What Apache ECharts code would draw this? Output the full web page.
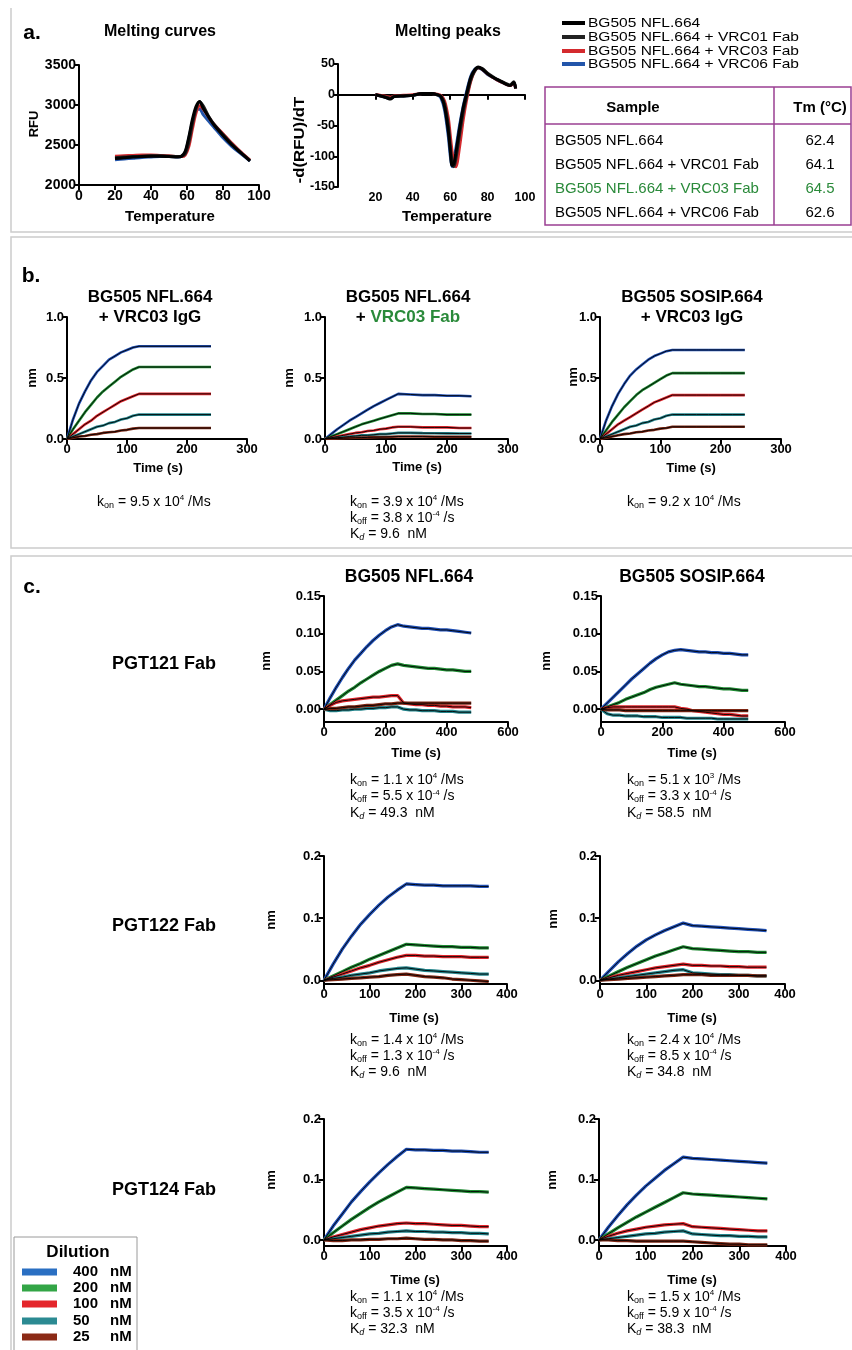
<!DOCTYPE html>
<html><head><meta charset="utf-8">
<script src="https://cdn.jsdelivr.net/npm/echarts@6/dist/echarts.min.js"></script>
<style>html,body{margin:0;padding:0;background:#fff}#c{width:852px;height:1350px}</style>
</head><body><div id="c"></div>
<script>
// ---------- Panel a data ----------
const meltTemp = [20,25,30,35,40,45,50,55,57,59,61,63,65,67,69,72,75,80,85,90,95];
const meltNFL   = [2330,2340,2350,2355,2360,2360,2355,2350,2360,2420,2600,2820,2980,3045,2960,2850,2750,2620,2500,2400,2300];
const meltVRC01 = [2340,2350,2355,2360,2365,2365,2360,2355,2360,2390,2530,2760,2950,3040,2990,2860,2760,2630,2510,2405,2305];
const meltVRC03 = [2360,2365,2370,2375,2375,2370,2365,2355,2355,2375,2480,2700,2900,2990,2950,2850,2760,2640,2520,2410,2310];
const meltVRC06 = [2315,2325,2335,2345,2350,2355,2355,2350,2360,2410,2580,2790,2930,2950,2880,2800,2720,2590,2480,2390,2300];

const peakTemp  = [20,23,26,28,30,35,40,45,50,53,55,57,59,60,61,62,63,65,67,69,71,73,75,77,80,83,85,88,90,92,94,95];
const peakNFL   = [0,-2,-5,-7,-3,-2,-1,2,2,0,-3,-20,-60,-90,-115,-112,-95,-55,-20,5,28,40,45,42,34,28,25,20,17,15,20,10];
const peakVRC01 = [0,-2,-4,-6,-3,-2,-1,2,2,0,-2,-15,-50,-82,-108,-117,-105,-65,-28,0,24,38,44,43,35,29,25,21,18,16,21,11];
const peakVRC03 = [0,-1,-3,-4,-2,-1,0,2,2,1,-1,-10,-38,-65,-92,-110,-117,-85,-40,-5,22,38,44,42,34,28,24,20,17,15,19,10];
const peakVRC06 = [0,-2,-5,-6,-3,-2,-1,2,2,0,-5,-25,-68,-98,-117,-105,-88,-50,-18,8,30,41,44,41,33,28,24,20,17,15,19,10];

const sampleNames = ['BG505 NFL.664','BG505 NFL.664 + VRC01 Fab','BG505 NFL.664 + VRC03 Fab','BG505 NFL.664 + VRC06 Fab'];
const tmValues = ['62.4','64.1','64.5','62.6'];

// ---------- Panel b data ----------
const timeB = [0,10,20,30,40,50,60,70,80,90,100,110,120,140,160,180,200,220,240];
const b1_400 = [0,0.16,0.29,0.39,0.48,0.55,0.60,0.65,0.68,0.71,0.73,0.75,0.76,0.76,0.76,0.76,0.76,0.76,0.76];
const b1_200 = [0,0.08,0.15,0.22,0.28,0.34,0.39,0.43,0.47,0.51,0.54,0.57,0.59,0.59,0.59,0.59,0.59,0.59,0.59];
const b1_100 = [0,0.04,0.08,0.12,0.15,0.19,0.22,0.25,0.28,0.31,0.33,0.35,0.37,0.37,0.37,0.37,0.37,0.37,0.37];
const b1_50  = [0,0.02,0.04,0.06,0.08,0.10,0.11,0.13,0.14,0.16,0.17,0.19,0.20,0.20,0.20,0.20,0.20,0.20,0.20];
const b1_25  = [0,0.01,0.02,0.025,0.035,0.04,0.05,0.055,0.06,0.07,0.075,0.085,0.09,0.09,0.09,0.09,0.09,0.09,0.09];

const b2_400 = [0,0.04,0.08,0.115,0.15,0.18,0.21,0.24,0.27,0.295,0.32,0.345,0.37,0.365,0.36,0.36,0.355,0.355,0.35];
const b2_200 = [0,0.02,0.04,0.06,0.08,0.10,0.12,0.135,0.15,0.165,0.18,0.195,0.21,0.21,0.205,0.205,0.20,0.20,0.20];
const b2_100 = [0,0.01,0.02,0.03,0.04,0.05,0.055,0.065,0.07,0.08,0.085,0.095,0.10,0.10,0.095,0.095,0.095,0.09,0.09];
const b2_50  = [0,0.005,0.01,0.015,0.02,0.025,0.03,0.03,0.035,0.04,0.04,0.045,0.05,0.05,0.048,0.047,0.046,0.045,0.045];
const b2_25  = [0,0.002,0.004,0.006,0.008,0.01,0.012,0.013,0.015,0.016,0.017,0.019,0.02,0.02,0.02,0.019,0.019,0.018,0.018];

const b3_400 = [0,0.15,0.27,0.37,0.45,0.52,0.57,0.61,0.65,0.68,0.70,0.72,0.73,0.73,0.73,0.73,0.73,0.73,0.73];
const b3_200 = [0,0.07,0.14,0.20,0.26,0.31,0.36,0.40,0.43,0.46,0.49,0.52,0.54,0.54,0.54,0.54,0.54,0.54,0.54];
const b3_100 = [0,0.04,0.08,0.12,0.15,0.18,0.21,0.24,0.27,0.30,0.32,0.34,0.36,0.36,0.36,0.36,0.36,0.36,0.36];
const b3_50  = [0,0.02,0.04,0.06,0.08,0.10,0.11,0.13,0.14,0.16,0.17,0.19,0.20,0.20,0.20,0.20,0.20,0.20,0.20];
const b3_25  = [0,0.01,0.02,0.03,0.04,0.045,0.055,0.06,0.07,0.075,0.085,0.09,0.10,0.10,0.10,0.10,0.10,0.10,0.10];

// ---------- Panel c data ----------
const timeC1 = [0,20,40,60,80,100,120,140,160,180,200,220,240,260,280,300,320,340,360,380,400,420,440,460,480];
const c1_400 = [0,0.015,0.029,0.042,0.054,0.065,0.074,0.083,0.091,0.098,0.104,0.109,0.112,0.110,0.109,0.108,0.107,0.107,0.106,0.105,0.105,0.104,0.103,0.102,0.101];
const c1_200 = [0,0.006,0.012,0.018,0.024,0.029,0.035,0.040,0.045,0.050,0.054,0.058,0.060,0.058,0.057,0.056,0.055,0.054,0.054,0.053,0.052,0.052,0.051,0.050,0.050];
const c1_100 = [0,0.005,0.009,0.011,0.012,0.013,0.014,0.015,0.016,0.016,0.017,0.018,0.018,0.008,0.007,0.006,0.006,0.005,0.005,0.004,0.004,0.003,0.003,0.003,0.002];
const c1_50  = [0,-0.002,-0.002,-0.001,-0.001,0.000,0.000,0.001,0.001,0.002,0.002,0.003,0.003,0.000,-0.001,-0.001,-0.002,-0.002,-0.002,-0.003,-0.003,-0.003,-0.004,-0.004,-0.004];
const c1_25  = [0,0.001,0.001,0.002,0.003,0.003,0.004,0.005,0.005,0.006,0.007,0.007,0.008,0.008,0.008,0.008,0.008,0.008,0.008,0.008,0.008,0.008,0.008,0.008,0.008];

const c2_400 = [0,0.008,0.016,0.024,0.032,0.040,0.047,0.054,0.061,0.067,0.072,0.076,0.078,0.079,0.078,0.077,0.076,0.076,0.075,0.075,0.074,0.074,0.073,0.072,0.072];
const c2_200 = [0,0.003,0.006,0.009,0.013,0.016,0.019,0.022,0.026,0.029,0.031,0.033,0.035,0.033,0.032,0.031,0.030,0.030,0.029,0.028,0.027,0.027,0.026,0.025,0.025];
const c2_100 = [0,0.002,0.003,0.003,0.003,0.003,0.003,0.003,0.003,0.003,0.003,0.003,0.003,0.001,0.000,-0.002,-0.003,-0.004,-0.005,-0.006,-0.007,-0.007,-0.008,-0.009,-0.009];
const c2_50  = [0,-0.006,-0.008,-0.008,-0.009,-0.009,-0.009,-0.010,-0.010,-0.010,-0.011,-0.011,-0.011,-0.011,-0.012,-0.012,-0.012,-0.012,-0.012,-0.013,-0.013,-0.013,-0.013,-0.013,-0.013];
const c2_25  = [0,-0.001,-0.001,-0.001,-0.002,-0.002,-0.002,-0.002,-0.002,-0.002,-0.002,-0.002,-0.002,-0.002,-0.002,-0.002,-0.002,-0.002,-0.002,-0.002,-0.002,-0.002,-0.002,-0.002,-0.002];

const timeC2 = [0,20,40,60,80,100,120,140,160,180,200,220,240,260,280,300,320,340,360];
const c3_400 = [0,0.026,0.050,0.071,0.090,0.106,0.121,0.134,0.145,0.155,0.154,0.153,0.153,0.152,0.152,0.152,0.152,0.151,0.151];
const c3_200 = [0,0.007,0.014,0.021,0.027,0.034,0.040,0.046,0.052,0.058,0.057,0.056,0.055,0.054,0.054,0.053,0.053,0.052,0.052];
const c3_100 = [0,0.005,0.010,0.015,0.020,0.024,0.029,0.033,0.037,0.040,0.040,0.039,0.039,0.038,0.038,0.038,0.037,0.037,0.037];
const c3_50  = [0,0.003,0.005,0.008,0.010,0.012,0.015,0.017,0.019,0.020,0.018,0.016,0.015,0.014,0.013,0.012,0.011,0.010,0.010];
const c3_25  = [0,0.001,0.002,0.003,0.004,0.005,0.006,0.008,0.009,0.010,0.008,0.006,0.005,0.004,0.002,0.001,0.000,-0.001,-0.002];

const c4_400 = [0,0.015,0.030,0.043,0.055,0.065,0.073,0.080,0.086,0.092,0.088,0.087,0.086,0.085,0.084,0.083,0.082,0.081,0.080];
const c4_200 = [0,0.007,0.014,0.021,0.027,0.033,0.039,0.044,0.049,0.054,0.051,0.050,0.049,0.048,0.047,0.046,0.046,0.045,0.045];
const c4_100 = [0,0.004,0.008,0.011,0.014,0.017,0.020,0.022,0.024,0.026,0.024,0.024,0.023,0.023,0.022,0.022,0.021,0.021,0.021];
const c4_50  = [0,0.002,0.004,0.006,0.008,0.010,0.012,0.014,0.016,0.017,0.012,0.011,0.010,0.009,0.009,0.008,0.008,0.007,0.007];
const c4_25  = [0,0.001,0.002,0.003,0.004,0.005,0.006,0.007,0.008,0.009,0.009,0.009,0.008,0.008,0.008,0.008,0.008,0.007,0.007];

const c5_400 = [0,0.023,0.043,0.063,0.080,0.096,0.111,0.125,0.138,0.150,0.149,0.149,0.148,0.148,0.147,0.147,0.146,0.145,0.145];
const c5_200 = [0,0.012,0.023,0.034,0.044,0.054,0.063,0.071,0.079,0.087,0.086,0.085,0.084,0.083,0.082,0.081,0.080,0.080,0.079];
const c5_100 = [0,0.005,0.009,0.013,0.017,0.020,0.023,0.025,0.027,0.028,0.027,0.027,0.026,0.025,0.024,0.024,0.023,0.022,0.022];
const c5_50  = [0,0.002,0.004,0.006,0.008,0.010,0.011,0.013,0.014,0.015,0.014,0.014,0.013,0.013,0.012,0.012,0.011,0.011,0.010];
const c5_25  = [0,-0.001,-0.001,0.000,0.000,0.001,0.001,0.002,0.002,0.003,0.002,0.001,0.001,0.000,0.000,-0.001,-0.001,-0.002,-0.002];

const c6_400 = [0,0.021,0.040,0.058,0.074,0.089,0.102,0.115,0.126,0.137,0.135,0.134,0.133,0.132,0.131,0.130,0.129,0.128,0.127];
const c6_200 = [0,0.010,0.020,0.029,0.038,0.046,0.054,0.062,0.070,0.078,0.076,0.075,0.074,0.073,0.072,0.071,0.070,0.069,0.068];
const c6_100 = [0,0.006,0.011,0.015,0.018,0.021,0.023,0.025,0.026,0.027,0.022,0.021,0.020,0.019,0.018,0.017,0.016,0.015,0.015];
const c6_50  = [0,0.002,0.004,0.006,0.008,0.010,0.011,0.013,0.014,0.015,0.010,0.009,0.008,0.007,0.007,0.006,0.006,0.005,0.005];
const c6_25  = [0,0.000,-0.001,-0.001,-0.002,-0.002,-0.002,-0.002,-0.002,-0.002,-0.003,-0.004,-0.005,-0.006,-0.007,-0.007,-0.008,-0.008,-0.008];

// kinetic constants (text), order: b1,b2,b3,c1..c6
const konMant  = ['9.5','3.9','9.2','1.1','5.1','1.4','2.4','1.1','1.5'];
const konExp   = ['4','4','4','4','3','4','4','4','4'];
const koffMant = [null,'3.8',null,'5.5','3.3','1.3','8.5','3.5','5.9'];
const koffExp  = [null,'-4',null,'-4','-4','-4','-4','-4','-4'];
const kdVals   = [null,'9.6',null,'49.3','58.5','9.6','34.8','32.3','38.3'];

const dilutions = ['400','200','100','50','25'];
const rowLabels = ['PGT121 Fab','PGT122 Fab','PGT124 Fab'];

// ---------- styles ----------
const FONT = 'Liberation Sans, Arial, Helvetica, sans-serif';
const lineColors = ['#1f4fb5','#1e8a32','#e0242a','#23858c','#7d2613'];
const swatchColors = ['#2a6fc2','#33a546','#e4262b','#2b8a92','#8b2a16'];
const meltColors = ['#2255aa','#d42a2e','#222222','#000000'];
const legendColors = ['#000000','#222222','#d42a2e','#2255aa'];
const GREEN = '#2a8a3a';

const grids = [], xAxes = [], yAxes = [], series = [];

function addAxes(box, xr, yr, fs) {
  const gi = grids.length;
  grids.push({left: box[0], top: box[1], width: box[2], height: box[3]});
  const lab = {color:'#000', fontFamily:FONT, fontWeight:'bold', fontSize:fs};
  const xa = {type:'value', gridIndex:gi, min:xr.min, max:xr.max,
    axisLine:{show:true, onZero:!!xr.onZero, lineStyle:{color:'#000', width:2}},
    axisTick:{show:true, length:5, lineStyle:{color:'#000', width:2}},
    axisLabel:Object.assign({margin:4, formatter: v => String(v)}, lab),
    splitLine:{show:false}};
  if (xr.interval) xa.interval = xr.interval;
  if (xr.ticks) { xa.axisTick.customValues = xr.ticks; xa.axisLabel.customValues = xr.ticks; }
  const ya = {type:'value', gridIndex:gi, min:yr.min, max:yr.max,
    axisLine:{show:true, onZero:false, lineStyle:{color:'#000', width:2}},
    axisTick:{show:true, length:5, lineStyle:{color:'#000', width:2}},
    axisLabel:Object.assign({margin:3, formatter: v => String(v)}, lab),
    splitLine:{show:false}};
  if (yr.interval) ya.interval = yr.interval;
  if (yr.ticks) { ya.axisTick.customValues = yr.ticks; ya.axisLabel.customValues = yr.ticks; }
  if (yr.dec !== undefined) ya.axisLabel.formatter = v => Number(v).toFixed(yr.dec);
  xAxes.push(xa); yAxes.push(ya);
  return gi;
}
function pairs(time, vals) { return time.map((t, i) => [t, vals[i]]); }
function sensor(gi, time, arrs, lw) {
  arrs.forEach((vals, k) => {
    const data = pairs(time, vals);
    series.push({type:'line', xAxisIndex:gi, yAxisIndex:gi, data, symbol:'none', silent:true,
      lineStyle:{color:lineColors[k], width:lw}, z:2});
    series.push({type:'line', xAxisIndex:gi, yAxisIndex:gi, data, symbol:'none', silent:true,
      lineStyle:{color:'#000', width:0.9}, z:3});
  });
}

// Panel a
const gA1 = addAxes([79,65,180,120], {min:0,max:100,interval:20}, {min:2000,max:3500,interval:500}, 14);
[meltVRC06, meltVRC03, meltVRC01, meltNFL].forEach((v, k) => series.push({type:'line', xAxisIndex:gA1, yAxisIndex:gA1,
  data:pairs(meltTemp, v), symbol:'none', smooth:0.3, lineStyle:{color:meltColors[k], width:3}}));
const gA2 = addAxes([338,64,187,123], {min:0,max:100,onZero:true,ticks:[20,40,60,80,100]}, {min:-150,max:50,interval:50}, 12.5);
[peakVRC06, peakVRC03, peakVRC01, peakNFL].forEach((v, k) => series.push({type:'line', xAxisIndex:gA2, yAxisIndex:gA2,
  data:pairs(peakTemp, v), symbol:'none', smooth:0.3, lineStyle:{color:meltColors[k], width:3}}));

// Panel b
const bBoxes = [[67,317,180,122],[325,317,183,122],[600,317,181,122]];
const bData = [[b1_400,b1_200,b1_100,b1_50,b1_25],[b2_400,b2_200,b2_100,b2_50,b2_25],[b3_400,b3_200,b3_100,b3_50,b3_25]];
bBoxes.forEach((bx, i) => {
  const g = addAxes(bx, {min:0,max:300,interval:100}, {min:0,max:1,interval:0.5,dec:1}, 13);
  sensor(g, timeB, bData[i], 2.6);
});

// Panel c
const cBoxes = [[324,596,184,126],[601,596,184,126],[324,856,183,128],[600,856,185,128],[324,1119,183,127],[599,1119,187,127]];
const cData = [[c1_400,c1_200,c1_100,c1_50,c1_25],[c2_400,c2_200,c2_100,c2_50,c2_25],
  [c3_400,c3_200,c3_100,c3_50,c3_25],[c4_400,c4_200,c4_100,c4_50,c4_25],
  [c5_400,c5_200,c5_100,c5_50,c5_25],[c6_400,c6_200,c6_100,c6_50,c6_25]];
cBoxes.forEach((bx, i) => {
  const row = Math.floor(i / 2);
  const xr = row === 0 ? {min:0,max:600,interval:200} : {min:0,max:400,interval:100};
  const yr = row === 0 ? {min:-0.017,max:0.15,ticks:[0,0.05,0.1,0.15],dec:2}
           : row === 1 ? {min:-0.006,max:0.2,ticks:[0,0.1,0.2],dec:1}
           : {min:-0.01,max:0.2,ticks:[0,0.1,0.2],dec:1};
  const g = addAxes(bx, xr, yr, 13);
  sensor(g, row === 0 ? timeC1 : timeC2, cData[i], 3.2);
});

// ---------- graphic texts ----------
const G = [];
function T(x, y, text, size, o) {
  o = o || {};
  const el = {type:'text', x, y, silent:true, z:10,
    style:{text, fontSize:size, fontWeight:o.w || 'bold', fontFamily:FONT, fill:o.fill || '#000',
      align:o.align || 'center', verticalAlign:'middle'}};
  if (o.rot) el.rotation = o.rot;
  if (o.sx) el.scaleX = o.sx;
  if (o.rich) { el.style.rich = o.rich; el.style.lineHeight = o.lh || 16; }
  G.push(el);
}
function L(pts, color, w) { G.push({type:'polyline', silent:true, z:5, shape:{points:pts}, style:{stroke:color, lineWidth:w, fill:null}}); }
function R(x, y, w, h, fill) { G.push({type:'rect', silent:true, z:6, shape:{x, y, width:w, height:h}, style:{fill}}); }

// section borders
const BC = '#cccccc';
L([[11,8],[11,232],[870,232]], BC, 1.5);
L([[870,237],[11,237],[11,548],[870,548]], BC, 1.5);
L([[870,556],[11,556],[11,1360]], BC, 1.5);

// panel letters
T(32, 33, 'a.', 21); T(31, 276, 'b.', 21); T(32, 587, 'c.', 21);

// panel a
T(160, 32, 'Melting curves', 16);
T(448, 32, 'Melting peaks', 16);
T(34, 124, 'RFU', 13, {rot:Math.PI/2});
T(300, 140, '-d(RFU)/dT', 15, {rot:Math.PI/2, sx:1.12});
T(170, 217, 'Temperature', 15);
T(447, 217, 'Temperature', 15);
const legY = [23, 37, 51, 64];
sampleNames.forEach((s, i) => {
  L([[562, legY[i]],[585, legY[i]]], legendColors[i], 4);
  T(588, legY[i] + 0.5, s, 13.5, {w:'normal', align:'left', sx:1.15});
});
// table
const TB = '#9a3f92';
G.push({type:'rect', silent:true, z:5, shape:{x:545, y:87, width:306, height:138}, style:{stroke:TB, lineWidth:1.5, fill:null}});
L([[545,124],[851,124]], TB, 1.5);
L([[774,87],[774,225]], TB, 1.5);
T(633, 108, 'Sample', 15);
T(820, 108, 'Tm (°C)', 15);
const rowY = [141, 165, 189, 213];
sampleNames.forEach((s, i) => {
  const fill = i === 2 ? GREEN : '#000';
  T(555, rowY[i], s, 15, {w:'normal', align:'left', fill});
  T(820, rowY[i], tmValues[i], 15, {w:'normal', fill});
});

// panel b titles
T(150, 297, 'BG505 NFL.664', 17); T(150, 317, '+ VRC03 IgG', 17);
T(408, 297, 'BG505 NFL.664', 17);
T(408, 317, '{b|+ }{g|VRC03 Fab}', 17, {rich:{b:{fontSize:17, fontWeight:'bold', fontFamily:FONT, fill:'#000'}, g:{fontSize:17, fontWeight:'bold', fontFamily:FONT, fill:GREEN}}, lh:20});
T(692, 297, 'BG505 SOSIP.664', 17); T(692, 317, '+ VRC03 IgG', 17);
// nm labels
[[32,378],[289,378],[573,377],[266,661],[546,661],[271,920],[553,919],[271,1180],[552,1180]].forEach(p =>
  T(p[0], p[1], 'nm', 13, {rot:Math.PI/2}));
// Time labels
[[158,468],[417,467],[691,468],[416,753],[692,753],[414,1018],[692,1018],[415,1280],[692,1280]].forEach(p =>
  T(p[0], p[1], 'Time (s)', 13));

// kinetics
const kRich = {
  n:{fontSize:14, fontFamily:FONT, fill:'#000', lineHeight:16},
  s:{fontSize:9, fontFamily:FONT, fill:'#000', lineHeight:9, verticalAlign:'bottom'},
  si:{fontSize:9, fontFamily:FONT, fill:'#000', fontStyle:'italic', lineHeight:9, verticalAlign:'bottom'},
  p:{fontSize:8, fontFamily:FONT, fill:'#000', lineHeight:8, verticalAlign:'top'}
};
const kPos = [[97,502],[350,502],[627,502],[350,780],[627,780],[350,1040],[627,1040],[350,1297],[627,1297]];
const kStep = [16, 16, 16, 16.5, 16.5, 16, 16, 16, 16];
kPos.forEach((p, i) => {
  T(p[0], p[1], '{n|k}{s|on}{n| = ' + konMant[i] + ' x 10}{p|' + konExp[i] + '}{n| /Ms}', 14, {w:'normal', align:'left', rich:kRich});
  if (koffMant[i]) T(p[0], p[1] + kStep[i], '{n|k}{s|off}{n| = ' + koffMant[i] + ' x 10}{p|' + koffExp[i] + '}{n| /s}', 14, {w:'normal', align:'left', rich:kRich});
  if (kdVals[i]) T(p[0], p[1] + 2 * kStep[i], '{n|K}{si|d}{n| = ' + kdVals[i] + '  nM}', 14, {w:'normal', align:'left', rich:kRich});
});

// panel c headings
T(409, 577, 'BG505 NFL.664', 17.5);
T(692, 577, 'BG505 SOSIP.664', 17.5);
[664, 926, 1190].forEach((y, i) => T(164, y, rowLabels[i], 18));

// dilution legend
G.push({type:'rect', silent:true, z:5, shape:{x:14, y:1237, width:123, height:125}, style:{stroke:'#9a9a9a', lineWidth:1, fill:null}});
T(78, 1252, 'Dilution', 17);
const dilY = [1272, 1288, 1304, 1321, 1337];
dilutions.forEach((d, i) => {
  R(22, dilY[i] - 3.5, 35, 7, swatchColors[i]);
  T(73, dilY[i], d, 15, {align:'left'});
  T(110, dilY[i], 'nM', 15, {align:'left'});
});

const chart = echarts.init(document.getElementById('c'), null, {renderer:'canvas'});
chart.setOption({
  animation:false, backgroundColor:'#ffffff',
  grid:grids, xAxis:xAxes, yAxis:yAxes, series, graphic:G
});
</script></body></html>
